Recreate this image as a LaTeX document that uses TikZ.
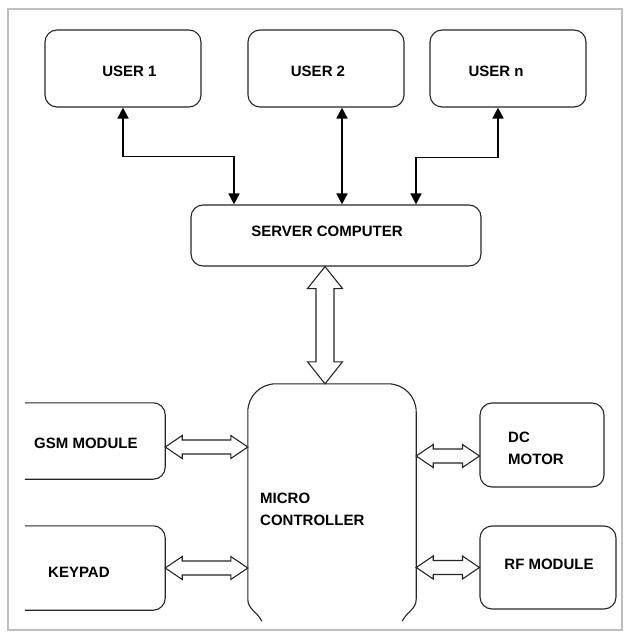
\documentclass[tikz,border=0pt]{standalone}
\usepackage{fontspec}
\setmainfont{Liberation Sans}
\usetikzlibrary{calc,arrows.meta}

% hollow double arrow: from, to, head length, head half width, shaft half width
\newcommand{\hollowarrow}[5]{%
  \draw[hollow] (#1) -- ($(#1)!#3!(#2)!#4!90:(#2)$) -- ($(#1)!#3!(#2)!#5!90:(#2)$)
    -- ($(#2)!#3!(#1)!#5!-90:(#1)$) -- ($(#2)!#3!(#1)!#4!-90:(#1)$) -- (#2)
    -- ($(#2)!#3!(#1)!#4!90:(#1)$) -- ($(#2)!#3!(#1)!#5!90:(#1)$)
    -- ($(#1)!#3!(#2)!#5!-90:(#2)$) -- ($(#1)!#3!(#2)!#4!-90:(#2)$) -- cycle;}

\begin{document}
\begin{tikzpicture}[x=1pt,y=-1pt]

    \tikzset{
      box/.style={
        draw=black!85,
        line width=1.1pt,
        rounded corners=12pt,
        inner sep=0pt,
      },
      ghost/.style={
        inner sep=0pt,
      },
      lbl/.style={
        font=\bfseries\fontsize{15}{22}\selectfont,
        inner sep=0pt,
        align=left,
      },
      link/.style={
        line width=1.5pt,
        >={Triangle[length=11pt,width=11pt]},
        <->,
      },
      hollow/.style={
        draw=black!85,
        line width=1.1pt,
        fill=white,
      },
    }
    \useasboundingbox (0,0) rectangle (628,636);
    \draw[gray!50, line width=2pt] (8,9) rectangle (622,630);

	% users and server
	\node[box, minimum width=156pt, minimum height=77pt] (user1) at (123,68.5) {};
	\node[box, minimum width=156pt, minimum height=77pt] (user2) at (326,68.5) {};
	\node[box, minimum width=156pt, minimum height=77pt] (usern) at (508,68.5) {};
	\node[box, minimum width=290pt, minimum height=61pt] (server) at (336,235.5) {};
	\node[lbl] (user1txt) at (129.5,71) {USER 1};
	\node[lbl] (user2txt) at (318,71) {USER 2};
	\node[lbl] (userntxt) at (496,71) {USER n};
	\node[lbl] (servertxt) at (327,231) {SERVER COMPUTER};

	\coordinate (u2) at ([xshift=16pt]user2.south);
	\draw[link] (user1.south) -- ++(0,49) -| ([xshift=-102pt]server.north);
	\draw[link] (u2) -- (u2 |- server.north);
	\draw[link] ([xshift=-10pt]usern.south) -- ++(0,50) -| ([xshift=80pt]server.north);

	% micro controller and modules
	\node[ghost, minimum width=168pt, minimum height=237pt] (micro) at (332,502.5) {};
	\node[ghost, minimum width=140pt, minimum height=76pt] (gsm) at (95,441) {};
	\node[ghost, minimum width=140pt, minimum height=84pt] (keypad) at (95,568) {};
	\node[box, minimum width=124pt, minimum height=84pt] (dc) at (542,445) {};
	\node[box, minimum width=136pt, minimum height=83pt] (rf) at (548,567.5) {};

	\draw[box] (gsm.north west) -- (gsm.north east) -- (gsm.south east) -- (gsm.south west);
	\draw[box] (keypad.north west) -- (keypad.north east) -- (keypad.south east) -- (keypad.south west);
	\draw[box, rounded corners=28pt] ([yshift=22pt]micro.south west) -- (micro.north west)
	  -- (micro.north east) -- ([yshift=22pt]micro.south east);
	\draw[box, sharp corners] ([xshift=14pt]micro.south west) to[out=115,in=-90] ([yshift=22pt]micro.south west);
	\draw[box, sharp corners] ([xshift=-14pt]micro.south east) to[out=65,in=-90] ([yshift=22pt]micro.south east);

	\node[lbl, anchor=west] (gsmtxt) at (34,443) {GSM MODULE};
	\node[lbl, anchor=west] (keypadtxt) at (48,572) {KEYPAD};
	\node[lbl, anchor=west] (microtxt) at (260,509) {MICRO\\CONTROLLER};
	\node[lbl, anchor=west] (dctxt) at (508,448.5) {DC\\MOTOR};
	\node[lbl] (rftxt) at (549,564) {RF MODULE};

	\coordinate (s1) at ([xshift=-11pt]server.south);
	\coordinate (m1) at (s1 |- micro.north);
	\coordinate (g1) at ([yshift=-6pt]gsm.east);
	\coordinate (g2) at (g1 -| micro.west);
	\coordinate (k1) at (keypad.east);
	\coordinate (k2) at (k1 -| micro.west);
	\coordinate (d1) at ([yshift=-11pt]dc.west);
	\coordinate (d2) at (d1 -| micro.east);
	\coordinate (r1) at (rf.west);
	\coordinate (r2) at (r1 -| micro.east);

	\hollowarrow{s1}{m1}{22pt}{17.5pt}{9pt}
	\hollowarrow{g1}{g2}{17pt}{11.5pt}{7pt}
	\hollowarrow{k1}{k2}{17pt}{11.5pt}{7pt}
	\hollowarrow{d2}{d1}{17pt}{11.5pt}{7pt}
	\hollowarrow{r2}{r1}{17pt}{11.5pt}{7pt}

\end{tikzpicture}
\end{document}
